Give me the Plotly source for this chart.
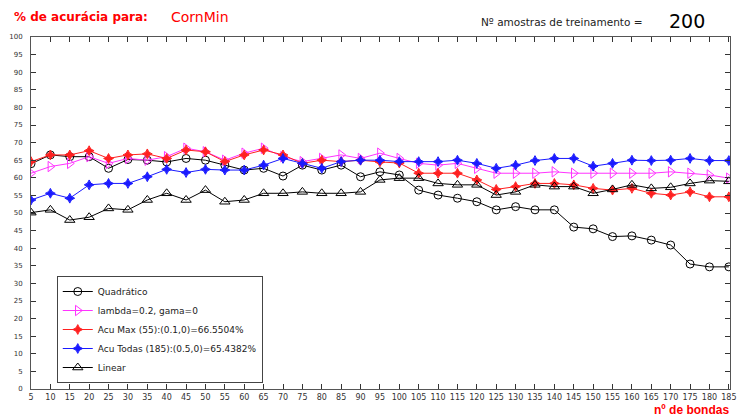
import plotly.graph_objects as go

x_vals = list(range(5, 190, 5))

quadratico = [64, 66.5, 66, 66, 62.7, 65.2, 65, 64.5, 65.5, 65, 63.6, 62.2, 62.7, 60.5, 63.6, 62.2, 63.6, 60.3, 61.7,
              60.8, 56.5, 55.1, 54.2, 53.2, 50.9, 51.8, 50.9, 50.9, 46, 45.5, 43.3, 43.5, 42.3, 40.9, 35.5, 34.7, 34.7]
lambda_gama = [61.3, 63.2, 64.1, 66, 64.1, 65.5, 65, 66, 68.4, 67.4, 65, 67, 68.4, 66, 64.6, 65.5, 66.5, 65.5, 67,
               65.5, 64.1, 63.6, 64.1, 62.7, 61.3, 61.3, 61.3, 61.7, 61.3, 61.3, 61.3, 61.3, 61.3, 61.7, 61.3, 60.8, 59.9]
acu_max = [64.6, 66.5, 66.5, 67.7, 65.5, 66.5, 66.8, 65.5, 67.9, 67.4, 64.6, 66.5, 67.9, 66.5, 64.1, 65, 64.6, 65, 64.5,
           64.2, 61.3, 61.3, 61.3, 59.4, 56.7, 57.5, 58.4, 58.4, 58, 57, 56.5, 57, 55.6, 55.1, 56, 54.6, 54.6]
acu_todas = [53.7, 55.6, 54.2, 58, 58.4, 58.4, 60.3, 62.4, 61.5, 62.4, 62.2, 62.2, 63.6, 65.5, 64.1, 62.7, 64.6, 65, 65,
             64.6, 64.6, 64.6, 65, 64.1, 62.7, 63.6, 64.9, 65.5, 65.5, 63.3, 64.1, 65, 64.9, 65, 65.5, 64.9, 64.9]
linear = [50.1, 50.9, 48, 48.8, 51.3, 50.9, 53.7, 55.6, 53.7, 56.5, 53.2, 53.7, 55.6, 55.6, 56, 55.6, 55.6, 56, 59.4,
          59.9, 59.9, 58.4, 58, 58, 55.1, 56, 58, 57.5, 57.5, 55.6, 56.7, 58, 57, 57.3, 58.4, 59.2, 59]

series_names = ["Quadrático", "lambda=0.2, gama=0", "Acu Max (55):(0.1,0)=66.5504%",
                "Acu Todas (185):(0.5,0)=65.4382%", "Linear"]
y_ticks = list(range(0, 105, 5))
x_ticks = x_vals

FONT = "Liberation Sans, Arial, sans-serif"
WIDE = "DejaVu Sans, Verdana, sans-serif"

fig = go.Figure()
specs = [
    (quadratico, "#000000", "circle-open", 8),
    (lambda_gama, "#ff33ff", "triangle-right-open", 9),
    (acu_max, "#ff2020", "star-diamond", 7),
    (acu_todas, "#1a1aff", "star-diamond", 7),
    (linear, "#000000", "triangle-up-open", 9),
]
for (vals, col, sym, sz), name in zip(specs, series_names):
    fig.add_trace(go.Scatter(
        x=x_vals, y=vals, name=name, mode="lines+markers",
        line=dict(color=col, width=1),
        marker=dict(symbol=sym, size=sz, color=col, line=dict(color=col, width=1)),
    ))

W0, W1, H0, H1 = 31, 736, 37, 389
def px(xp): return (xp - W0) / (W1 - W0)
def py(yp): return (H1 - yp) / (H1 - H0)

fig.update_layout(
    width=741, height=419,
    margin=dict(l=31, r=5, t=37, b=30),
    paper_bgcolor="white", plot_bgcolor="white",
    font=dict(family=FONT, size=8, color="#222"),
    showlegend=True,
    legend=dict(
        x=px(57), y=py(383), xanchor="left", yanchor="bottom",
        bgcolor="white", bordercolor="#444", borderwidth=1,
        font=dict(size=9, color="#222", family=WIDE), tracegroupgap=0,
    ),
    xaxis=dict(
        range=[5, 185.3], tickvals=x_ticks, ticktext=[str(v) for v in x_ticks],
        ticks="inside", ticklen=5, tickcolor="#333", showline=True, linecolor="#555",
        linewidth=1, mirror="ticks", showgrid=False, zeroline=False,
        tickfont=dict(size=8, color="#333", family=WIDE), ticklabeloverflow="allow",
    ),
    yaxis=dict(
        range=[0, 100], tickvals=y_ticks, ticktext=[str(v) for v in y_ticks],
        ticks="inside", ticklen=5, tickcolor="#333", showline=True, linecolor="#555",
        linewidth=1, mirror="ticks", showgrid=False, zeroline=False,
        tickfont=dict(size=7, color="#333", family=WIDE), ticklabelstandoff=6,
    ),
    annotations=[
        dict(text="<b>% de acurácia para:</b>", x=px(12), y=py(17), xanchor="left", yanchor="middle",
             xref="paper", yref="paper", showarrow=False,
             font=dict(size=12, color="#ff0000", family=WIDE)),
        dict(text="CornMin", x=px(170), y=py(17), xanchor="left", yanchor="middle",
             xref="paper", yref="paper", showarrow=False,
             font=dict(size=14, color="#ff0000", family=WIDE)),
        dict(text="Nº amostras de treinamento =", x=px(650), y=py(22), xanchor="right", yanchor="middle",
             xref="paper", yref="paper", showarrow=False,
             font=dict(size=10.5, color="#222", family=WIDE)),
        dict(text="200", x=px(672), y=py(21), xanchor="left", yanchor="middle",
             xref="paper", yref="paper", showarrow=False,
             font=dict(size=19, color="#000", family=WIDE)),
        dict(text="<b>nº de bondas</b>", x=px(737), y=py(410), xanchor="right", yanchor="middle",
             xref="paper", yref="paper", showarrow=False,
             font=dict(size=12, color="#ff0000", family=FONT)),
    ],
)

fig.write_html("out.html", config={"displayModeBar": False},
               post_script="document.body.style.margin='0';")
